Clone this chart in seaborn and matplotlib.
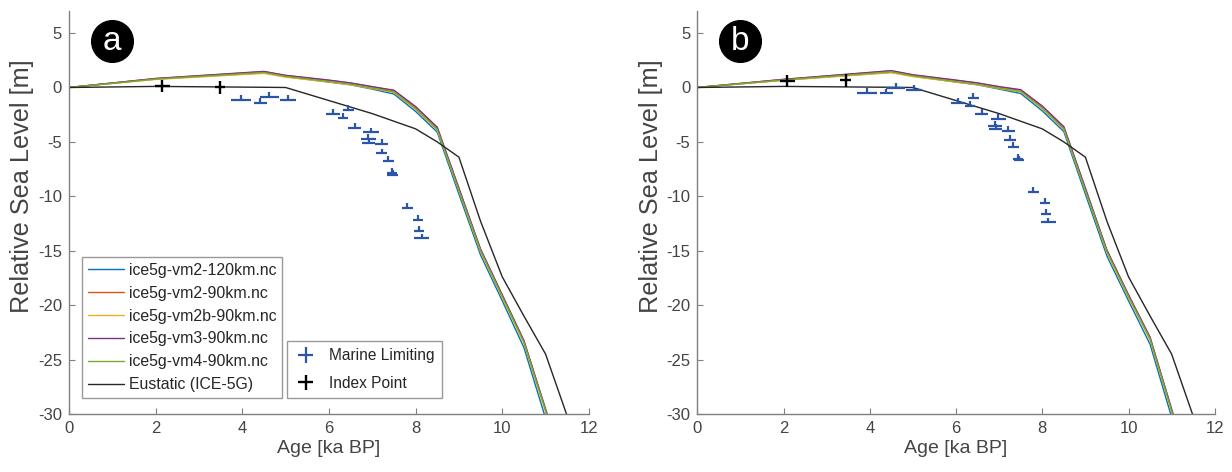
import numpy as np
import pandas as pd
import matplotlib
matplotlib.use('Agg')
import matplotlib.pyplot as plt
import seaborn as sns

# ---------------- data ----------------
AGE = [0, 2, 4.5, 5, 6, 6.5, 7, 7.5, 8, 8.5, 9, 9.5, 10, 10.5, 11, 11.5]

MODEL_NAMES = ['ice5g-vm2-120km.nc', 'ice5g-vm2-90km.nc', 'ice5g-vm2b-90km.nc',
               'ice5g-vm3-90km.nc', 'ice5g-vm4-90km.nc', 'Eustatic (ICE-5G)']

# panel a
A_VM2_120 = [0, 0.78, 1.35, 1.00, 0.50, 0.25, -0.15, -0.60, -2.20, -4.10, -9.8, -15.4, -19.6, -23.9, -30.4, -37.0]
A_VM2_90  = [0, 0.82, 1.45, 1.10, 0.65, 0.40, 0.05, -0.30, -1.80, -3.70, -9.3, -14.9, -19.1, -23.3, -29.6, -36.0]
A_VM2B_90 = [0, 0.74, 1.30, 0.95, 0.50, 0.25, -0.10, -0.45, -2.00, -3.90, -9.5, -15.1, -19.3, -23.5, -29.8, -36.2]
A_VM3_90  = [0, 0.83, 1.48, 1.12, 0.68, 0.42, 0.08, -0.25, -1.75, -3.65, -9.25, -14.85, -19.05, -23.25, -29.55, -35.9]
A_VM4_90  = [0, 0.78, 1.38, 1.02, 0.55, 0.30, -0.05, -0.40, -1.95, -3.85, -9.45, -15.0, -19.2, -23.4, -29.7, -36.1]
EUSTATIC  = [0, 0.10, 0.02, 0.0, -1.2, -1.8, -2.4, -3.1, -3.8, -5.0, -6.4, -12.3, -17.4, -21.0, -24.5, -30.2]

# panel b
B_VM2_120 = [0, 0.68, 1.40, 1.05, 0.50, 0.25, -0.15, -0.55, -2.15, -4.05, -9.8, -15.5, -19.6, -23.6, -30.3, -37.0]
B_VM2_90  = [0, 0.74, 1.52, 1.15, 0.65, 0.40, 0.05, -0.25, -1.75, -3.65, -9.3, -15.0, -19.1, -23.0, -29.6, -36.0]
B_VM2B_90 = [0, 0.66, 1.36, 1.00, 0.50, 0.25, -0.10, -0.40, -1.95, -3.85, -9.5, -15.2, -19.3, -23.2, -29.8, -36.2]
B_VM3_90  = [0, 0.75, 1.55, 1.17, 0.68, 0.42, 0.08, -0.20, -1.70, -3.60, -9.25, -14.95, -19.05, -22.95, -29.55, -35.9]
B_VM4_90  = [0, 0.70, 1.44, 1.07, 0.55, 0.30, -0.05, -0.35, -1.90, -3.80, -9.45, -15.1, -19.2, -23.1, -29.7, -36.1]

# marine limiting data (panel a)
MA_AGE  = [3.97, 4.41, 4.62, 5.06, 6.10, 6.33, 6.45, 6.60, 6.97, 6.91, 6.92, 7.22, 7.22, 7.37, 7.45, 7.47, 7.81, 8.06, 8.08, 8.14]
MA_RSL  = [-1.15, -1.38, -0.86, -1.15, -2.45, -2.76, -2.08, -3.71, -4.13, -4.72, -5.08, -5.20, -6.06, -6.74, -7.85, -8.05, -11.06, -12.19, -13.17, -13.87]
MA_XERR = [0.23, 0.15, 0.22, 0.19, 0.16, 0.12, 0.13, 0.15, 0.18, 0.17, 0.15, 0.15, 0.13, 0.13, 0.12, 0.12, 0.13, 0.12, 0.12, 0.17]

# marine limiting data (panel b)
MB_AGE  = [3.93, 4.38, 4.60, 5.03, 6.05, 6.32, 6.40, 6.60, 6.98, 6.90, 6.92, 7.21, 7.25, 7.33, 7.44, 7.46, 7.79, 8.06, 8.08, 8.14]
MB_RSL  = [-0.46, -0.55, -0.03, -0.20, -1.44, -1.68, -0.97, -2.45, -2.91, -3.52, -3.82, -3.98, -4.83, -5.45, -6.55, -6.70, -9.60, -10.65, -11.66, -12.40]
MB_XERR = [0.23, 0.15, 0.22, 0.19, 0.16, 0.12, 0.13, 0.15, 0.18, 0.17, 0.15, 0.15, 0.13, 0.13, 0.12, 0.12, 0.13, 0.12, 0.12, 0.17]

MARINE_UP = 0.45

# index points
IA_AGE = [2.15, 3.48]
IA_RSL = [0.12, 0.00]
IB_AGE = [2.09, 3.44]
IB_RSL = [0.62, 0.68]
I_XERR = [0.17, 0.12]
I_YERR = [0.57, 0.60]

X_TICKS = [0, 2, 4, 6, 8, 10, 12]
Y_TICKS = [-30, -25, -20, -15, -10, -5, 0, 5]

# ---------------- style ----------------
sns.set_style('ticks')
plt.rcParams['font.family'] = ['Liberation Sans', 'DejaVu Sans']
plt.rcParams['axes.unicode_minus'] = False

COLORS = ['#0072BD', '#D95319', '#EDB120', '#7E2F8E', '#77AC30', '#262626']
MARINE_COLOR = '#2B55A8'
AX_COLOR = '#808080'
TXT_COLOR = '#444444'

fig = plt.figure(figsize=(12.32, 4.72), dpi=100)
axa = fig.add_axes([0.056, 0.123, 0.422, 0.853])
axb = fig.add_axes([0.566, 0.123, 0.420, 0.853])


def panel(ax, curves, m_age, m_rsl, m_xerr, i_age, i_rsl, letter, show_legend):
    rows = []
    for name, vals in zip(MODEL_NAMES, curves):
        for a, v in zip(AGE, vals):
            rows.append({'age': a, 'rsl': v, 'model': name})
    df = pd.DataFrame(rows)
    sns.lineplot(data=df, x='age', y='rsl', hue='model', hue_order=MODEL_NAMES,
                 palette=COLORS, linewidth=1.0, estimator=None, sort=False,
                 legend=show_legend, ax=ax)

    m = ax.errorbar(m_age, m_rsl, xerr=m_xerr,
                    yerr=[np.zeros(len(m_rsl)), np.full(len(m_rsl), MARINE_UP)],
                    fmt='none', ecolor=MARINE_COLOR, elinewidth=1.6, capsize=0,
                    zorder=4)
    ip = ax.errorbar(i_age, i_rsl, xerr=I_XERR, yerr=I_YERR, fmt='none',
                     ecolor='black', elinewidth=1.7, capsize=0, zorder=5)

    ax.set_xlim(0, 12)
    ax.set_ylim(-30, 7)
    ax.set_xticks(X_TICKS)
    ax.set_yticks(Y_TICKS)
    ax.tick_params(direction='in', length=4, width=0.8, color=AX_COLOR,
                   labelsize=12, labelcolor=TXT_COLOR, pad=5)
    for s in ['top', 'right']:
        ax.spines[s].set_visible(False)
    for s in ['left', 'bottom']:
        ax.spines[s].set_color(AX_COLOR)
        ax.spines[s].set_linewidth(1.0)
    ax.set_xlabel('Age [ka BP]', fontsize=14, color=TXT_COLOR, labelpad=3)
    ax.set_ylabel('Relative Sea Level [m]', fontsize=18.2, color=TXT_COLOR)
    ax.yaxis.set_label_coords(-0.067, 0.565)

    # panel letter
    ax.plot([0.083], [0.927], 'o', ms=30, color='black', transform=ax.transAxes,
            clip_on=False, zorder=6)
    ax.text(0.083, 0.925, letter, color='white', fontsize=24, ha='center',
            va='center', transform=ax.transAxes, zorder=7)

    if show_legend:
        h, l = ax.get_legend_handles_labels()
        h = h[:len(MODEL_NAMES)]
        l = l[:len(MODEL_NAMES)]
        leg1 = ax.legend(h, l, loc='lower left', bbox_to_anchor=(0.025, 0.04),
                         frameon=True, fancybox=False, edgecolor=AX_COLOR,
                         fontsize=11.4, handlelength=2.3, labelspacing=0.5,
                         borderpad=0.35, handletextpad=0.3, borderaxespad=0)
        leg1.get_frame().set_linewidth(1.0)
        ax.add_artist(leg1)
        leg2 = ax.legend([m, ip], ['Marine Limiting', 'Index Point'], loc='lower left',
                         bbox_to_anchor=(0.42, 0.04), frameon=True, fancybox=False,
                         edgecolor=AX_COLOR, fontsize=11.2, handlelength=1.45,
                         labelspacing=0.8, borderpad=0.45, handletextpad=0.8,
                         borderaxespad=0)
        leg2.get_frame().set_linewidth(1.0)


panel(axa, [A_VM2_120, A_VM2_90, A_VM2B_90, A_VM3_90, A_VM4_90, EUSTATIC],
      MA_AGE, MA_RSL, MA_XERR, IA_AGE, IA_RSL, 'a', True)
panel(axb, [B_VM2_120, B_VM2_90, B_VM2B_90, B_VM3_90, B_VM4_90, EUSTATIC],
      MB_AGE, MB_RSL, MB_XERR, IB_AGE, IB_RSL, 'b', False)

fig.savefig('out.png', dpi=100)
